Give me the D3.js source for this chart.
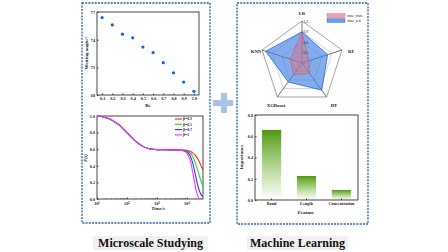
<!DOCTYPE html>
<html><head><meta charset="utf-8">
<script src="https://cdn.jsdelivr.net/npm/d3@7"></script>
<style>body{margin:0;background:#fff}svg{display:block}text{font-family:"Liberation Serif","Times New Roman",serif;fill:#222}</style>
</head><body><svg id="c" width="448" height="252"></svg>
<script>
// ---------- data ----------
const beValues=[0.1,0.2,0.3,0.4,0.5,0.6,0.7,0.8,0.9,1.0];
const wettingAngles=[76.4,75.6,74.6,74.2,73.2,72.6,71.5,70.4,69.4,68.4];
const wettingTicks=[68,71,74,77];
const beTicks=[0.1,0.2,0.3,0.4,0.5,0.6,0.7,0.8,0.9,1.0];

const timePoints=[10,17.8,31.6,56.2,100,178,316,562,1000,1778,3162,5623,7943,10000,12589,15849,19953,25119,31623,34674];
const seriesNames=["β=0.3","β=0.5","β=0.7","β=1"];
const seriesColors=["#ff2a2a","#22dd22","#3333ff","#ff33ff"];
const fBeta03=[1.0,0.985,0.95,0.89,0.80,0.71,0.64,0.605,0.595,0.593,0.592,0.591,0.589,0.586,0.576,0.556,0.52,0.46,0.38,0.35];
const fBeta05=[1.0,0.985,0.95,0.89,0.80,0.71,0.64,0.605,0.595,0.593,0.592,0.590,0.586,0.578,0.56,0.51,0.42,0.30,0.19,0.15];
const fBeta07=[1.0,0.985,0.95,0.89,0.80,0.71,0.64,0.605,0.595,0.593,0.592,0.590,0.582,0.57,0.53,0.43,0.27,0.12,0.04,0.03];
const fBeta1 =[1.0,0.985,0.95,0.89,0.80,0.71,0.64,0.605,0.595,0.593,0.592,0.589,0.578,0.555,0.48,0.32,0.12,0.0,null,null];
const fTicks=[0,0.2,0.4,0.6,0.8,1.0];
const timeTicks=[10,100,1000,10000];

const radarAxes=["LR","RF","DT","XGBoost","KNN"];
const rmseTrain=[0.89,0.20,0.37,0.42,0.35];
const rmseTest=[0.89,0.77,0.96,0.67,1.09];
const radarLevels=[0.3,0.6,0.9,1.2];

const features=["Bond","Length","Concentration"];
const importance=[0.66,0.226,0.094];
const importanceTicks=[0,0.2,0.4,0.6,0.8];

const captions=["Microscale Studying","Machine Learning"];

// ---------- drawing ----------
const svg=d3.select("#c");
svg.append("rect").attr("width",448).attr("height",252).attr("fill","#fff");
const defs=svg.append("defs");

// dashed panel boxes
[[82,3,128,220],[237,3,131,221]].forEach(b=>{
  svg.append("rect").attr("x",b[0]).attr("y",b[1]).attr("width",b[2]).attr("height",b[3])
    .attr("fill","none").attr("stroke","#2a5cb0").attr("stroke-width",1.3).attr("stroke-dasharray","2,1.2");
});

// plus sign
svg.append("path").attr("d","M213,100h8v-7h6v7h6v6h-6v7h-6v-7h-8z").attr("fill","#a9c4ea");

const fs=4.2;
function frame(g,x0,x1,y0,y1){
  g.append("rect").attr("x",x0).attr("y",y0).attr("width",x1-x0).attr("height",y1-y0)
   .attr("fill","none").attr("stroke","#333").attr("stroke-width",0.9);
}

// ---- scatter: wetting angle ----
{
  const x=d3.scaleLinear().domain([0.05,1.05]).range([97,199]);
  const y=d3.scaleLinear().domain([68,77]).range([95,12]);
  const g=svg.append("g");
  frame(g,97,199,12,95);
  const ax=g.append("g").attr("transform","translate(0,95)").call(d3.axisBottom(x).tickValues(beTicks).tickFormat(d3.format(".1f")).tickSize(-1.5).tickPadding(2));
  const ay=g.append("g").attr("transform","translate(97,0)").call(d3.axisLeft(y).tickValues(wettingTicks).tickFormat(d3.format("d")).tickSize(-1.5).tickPadding(2));
  [ax,ay].forEach(a=>{a.select(".domain").remove();a.selectAll("line").attr("stroke","#333");a.selectAll("text").attr("font-size",fs).attr("font-weight","bold").style("font-family","Liberation Serif");});
  g.selectAll("circle.p").data(beValues).join("circle").attr("cx",d=>x(d)).attr("cy",(d,i)=>y(wettingAngles[i])).attr("r",1.6).attr("fill","#1760e0");
  g.append("text").attr("x",148).attr("y",107).attr("text-anchor","middle").attr("font-size",5).attr("font-weight","bold").text("Be");
  g.append("text").attr("transform","translate(88,53) rotate(-90)").attr("text-anchor","middle").attr("font-size",5).attr("font-weight","bold").text("Wetting angle/°");
}

// ---- F(t) curves ----
{
  const x=d3.scaleLog().domain([10,34674]).range([97,203]);
  const y=d3.scaleLinear().domain([0,1]).range([199,116]);
  const g=svg.append("g");
  frame(g,97,203,116,199);
  const ax=g.append("g").attr("transform","translate(0,199)").call(d3.axisBottom(x).tickValues(timeTicks).tickFormat(()=>"").tickSize(-1.5));
  const ay=g.append("g").attr("transform","translate(97,0)").call(d3.axisLeft(y).tickValues(fTicks).tickFormat(d3.format(".1f")).tickSize(-1.5).tickPadding(2));
  [ax,ay].forEach(a=>{a.select(".domain").remove();a.selectAll("line").attr("stroke","#333");a.selectAll("text").attr("font-size",fs).attr("font-weight","bold");});
  // minor ticks
  const minors=[];[10,100,1000,10000].forEach(d=>{for(let k=2;k<10;k++){if(d*k<34674)minors.push(d*k);}});
  g.selectAll("line.mn").data(minors).join("line").attr("x1",d=>x(d)).attr("x2",d=>x(d)).attr("y1",199).attr("y2",198).attr("stroke","#333").attr("stroke-width",0.6);
  // log tick labels 10^n
  timeTicks.forEach(t=>{
    const tx=g.append("text").attr("x",x(t)).attr("y",205).attr("text-anchor","middle").attr("font-size",fs).attr("font-weight","bold");
    tx.append("tspan").text("10");
    tx.append("tspan").attr("dy",-1.5).attr("font-size",3).text(Math.round(Math.log10(t)));
  });
  const all=[fBeta03,fBeta05,fBeta07,fBeta1];
  const line=d3.line().defined(d=>d[1]!==null).x(d=>x(d[0])).y(d=>y(d[1])).curve(d3.curveMonotoneX);
  all.forEach((s,i)=>{
    g.append("path").attr("d",line(timePoints.map((t,j)=>[t,s[j]]))).attr("fill","none").attr("stroke",seriesColors[i]).attr("stroke-width",1.1);
  });
  seriesNames.forEach((n,i)=>{
    const yy=119+i*5.3;
    g.append("line").attr("x1",175).attr("x2",182).attr("y1",yy).attr("y2",yy).attr("stroke",seriesColors[i]).attr("stroke-width",1.2);
    g.append("text").attr("x",183).attr("y",yy+1.4).attr("font-size",3.8).attr("font-weight","bold").text(n);
  });
  g.append("text").attr("x",158).attr("y",210).attr("text-anchor","middle").attr("font-size",5).attr("font-weight","bold").attr("font-style","italic").text("Time/s");
  g.append("text").attr("transform","translate(87,158) rotate(-90)").attr("text-anchor","middle").attr("font-size",5).attr("font-weight","bold").attr("font-style","italic").text("F(t)");
}

// ---- radar ----
{
  const cx=302,cy=63,R=42;
  const r=d3.scaleLinear().domain([0,1.2]).range([0,R]);
  const ang=i=>-Math.PI/2+i*2*Math.PI/radarAxes.length;
  const pt=(i,v)=>[cx+r(v)*Math.cos(ang(i)),cy+r(v)*Math.sin(ang(i))];
  const g=svg.append("g");
  radarLevels.forEach(l=>{
    g.append("polygon").attr("points",radarAxes.map((a,i)=>pt(i,l).join(",")).join(" ")).attr("fill","none").attr("stroke",l===1.2?"#999":"#bbb").attr("stroke-width",l===1.2?0.9:0.6);
  });
  radarAxes.forEach((a,i)=>{
    const p=pt(i,1.2);
    g.append("line").attr("x1",cx).attr("y1",cy).attr("x2",p[0]).attr("y2",p[1]).attr("stroke","#555").attr("stroke-width",0.8);
  });
  const poly=vals=>radarAxes.map((a,i)=>pt(i,vals[i]).join(",")).join(" ");
  g.append("polygon").attr("points",poly(rmseTest)).attr("fill","#3f7fe0").attr("fill-opacity",0.65).attr("stroke","#2b6be0").attr("stroke-width",0.8);
  g.append("polygon").attr("points",poly(rmseTrain)).attr("fill","#e86a7a").attr("fill-opacity",0.45).attr("stroke","#c05070").attr("stroke-width",0.5);
  radarLevels.forEach(l=>{
    g.append("text").attr("x",cx+1.5).attr("y",cy-r(l)+1.5).attr("font-size",3.6).attr("fill","#666").text(l.toFixed(1));
  });
  const lab=[[302,15,"middle"],[348,53,"start"],[334,107,"middle"],[276,107,"middle"],[256,53,"middle"]];
  radarAxes.forEach((a,i)=>{
    g.append("text").attr("x",lab[i][0]).attr("y",lab[i][1]).attr("text-anchor",lab[i][2]).attr("font-size",4.8).attr("font-weight","bold").text(a);
  });
  const leg=[["rmse_train","#f0a0a8","#e06070"],["rmse_test","#6a9ee8","#2b6be0"]];
  leg.forEach((l,i)=>{
    g.append("rect").attr("x",327).attr("y",13.5+i*5).attr("width",18).attr("height",4).attr("fill",l[1]).attr("stroke",l[2]).attr("stroke-width",0.4);
    g.append("text").attr("x",347).attr("y",17+i*5).attr("font-size",3.6).text(l[0]);
  });
}

// ---- bar chart ----
{
  const x=d3.scaleBand().domain(features).range([255,358]).paddingInner(0.45).paddingOuter(0.2);
  const y=d3.scaleLinear().domain([0,0.8]).range([200,115]);
  const grad=defs.append("linearGradient").attr("id","gg").attr("x1",0).attr("y1",0).attr("x2",0).attr("y2",1);
  grad.append("stop").attr("offset",0).attr("stop-color","#4f9418");
  grad.append("stop").attr("offset",0.12).attr("stop-color","#6aaa30");
  grad.append("stop").attr("offset",0.55).attr("stop-color","#b8d99a");
  grad.append("stop").attr("offset",1).attr("stop-color","#ffffff");
  const g=svg.append("g");
  g.selectAll("rect.b").data(features).join("rect").attr("x",d=>x(d)).attr("width",x.bandwidth())
    .attr("y",(d,i)=>y(importance[i])).attr("height",(d,i)=>200-y(importance[i])).attr("fill","url(#gg)");
  frame(g,255,358,115,200);
  const ax=g.append("g").attr("transform","translate(0,200)").call(d3.axisBottom(x).tickSize(-1.5).tickPadding(2.5));
  const ay=g.append("g").attr("transform","translate(255,0)").call(d3.axisLeft(y).tickValues(importanceTicks).tickFormat(d3.format(".1f")).tickSize(-1.5).tickPadding(2));
  [ax,ay].forEach(a=>{a.select(".domain").remove();a.selectAll("line").attr("stroke","#333");a.selectAll("text").attr("font-size",fs).attr("font-weight","bold");});
  g.append("text").attr("x",306).attr("y",214).attr("text-anchor","middle").attr("font-size",5).attr("font-weight","bold").text("Feature");
  g.append("text").attr("transform","translate(243,157) rotate(-90)").attr("text-anchor","middle").attr("font-size",5).attr("font-weight","bold").text("Importance");
}

// ---- captions ----
[[93,208,captions[0]],[247,348,captions[1]]].forEach(c=>{
  svg.append("rect").attr("x",c[0]).attr("y",236).attr("width",c[1]-c[0]).attr("height",14).attr("fill","#f0f0f0");
  svg.append("text").attr("x",(c[0]+c[1])/2).attr("y",247).attr("text-anchor","middle").attr("font-size",12).attr("font-weight","bold").style("fill","#111").text(c[2]);
});
</script></body></html>
